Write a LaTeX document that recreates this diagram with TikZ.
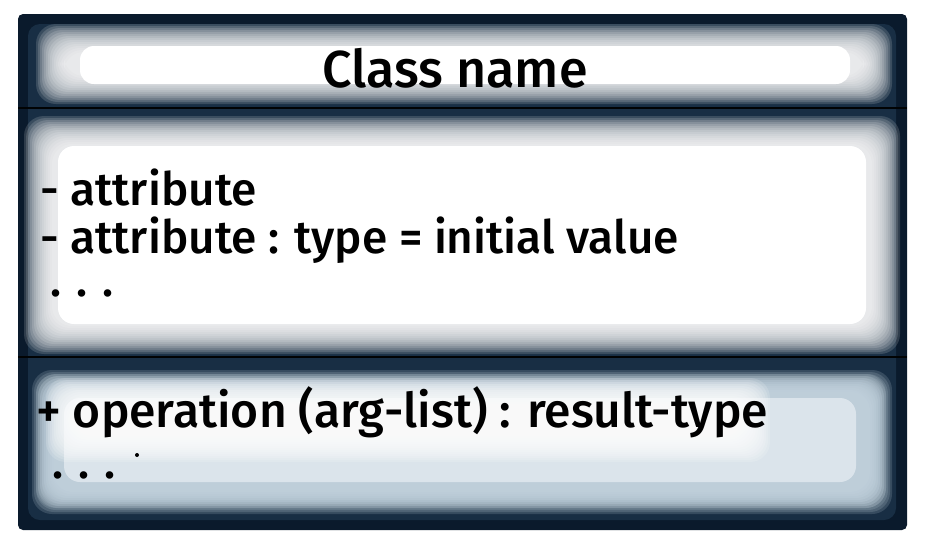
\documentclass[tikz,border=0pt]{standalone}
\usepackage{fontspec}
\setmainfont{Fira Sans}[BoldFont={Fira Sans Medium}]
\definecolor{navy}{HTML}{0A1A2C}
\definecolor{midnavy}{HTML}{243F59}
\definecolor{opbg}{HTML}{C3D3DE}
\tikzset{
  txt/.style={inner sep=0pt, font=\fontsize{46}{50}\selectfont\bfseries, text=black},
  soft/.style={fill=white, fill opacity=0.15, rounded corners=20pt},
  softop/.style={fill=opbg, fill opacity=0.18, rounded corners=20pt},
  divider/.style={line width=2.5pt, draw=black!90!navy}
}
\newcommand{\softzone}[5]{%
  \foreach \i in {0,...,14}{
    \fill[#5] ({#1+\i*2},{#2+\i*2}) rectangle ({#3-\i*2},{#4-\i*2});
  }}
\begin{document}
\begin{tikzpicture}[x=1pt,y=-1pt]
\useasboundingbox (0,0) rectangle (926,544);
\fill[white] (0,0) rectangle (926,544);
% outer box
\fill[navy, rounded corners=5pt] (18,14) rectangle (907,530);
\fill[midnavy, rounded corners=12pt] (28,24) rectangle (896,520);
\fill[navy, opacity=0.45, rounded corners=8pt] (20,16) rectangle (905,528);
% dividers
\draw[divider] (18,108) -- (907,108);
\draw[divider] (18,357) -- (907,357);
% name compartment
\softzone{36}{24}{892}{104}{soft}
\fill[white, rounded corners=14pt] (80,46) rectangle (850,84);
% attribute compartment
\softzone{24}{116}{900}{354}{soft}
\fill[white, rounded corners=16pt] (58,146) rectangle (866,324);
% operation compartment
\softzone{32}{370}{892}{514}{softop}
\softzone{36}{374}{886}{508}{softop}
\fill[opbg!60!white, rounded corners=16pt] (64,398) rectangle (856,482);
\softzone{46}{378}{770}{462}{soft}
% texts
\node[txt, font=\fontsize{52}{56}\selectfont\bfseries] (name) at (455,68) {Class name};
\node[txt, anchor=west] (attr1) at (40,188) {- attribute};
\node[txt, anchor=west] (attr2) at (40,240) {- attribute : type = initial value};
\node[txt, anchor=base west] (attr3) at (50,296) {. . .};
\node[txt, anchor=west, font=\fontsize{48}{52}\selectfont\bfseries] (op1) at (36,412) {+ operation (arg-list) : result-type};
\node[txt, anchor=base west] (op2) at (52,478) {. . .};
\fill[black] (137,455) circle (2);
\end{tikzpicture}
\end{document}
